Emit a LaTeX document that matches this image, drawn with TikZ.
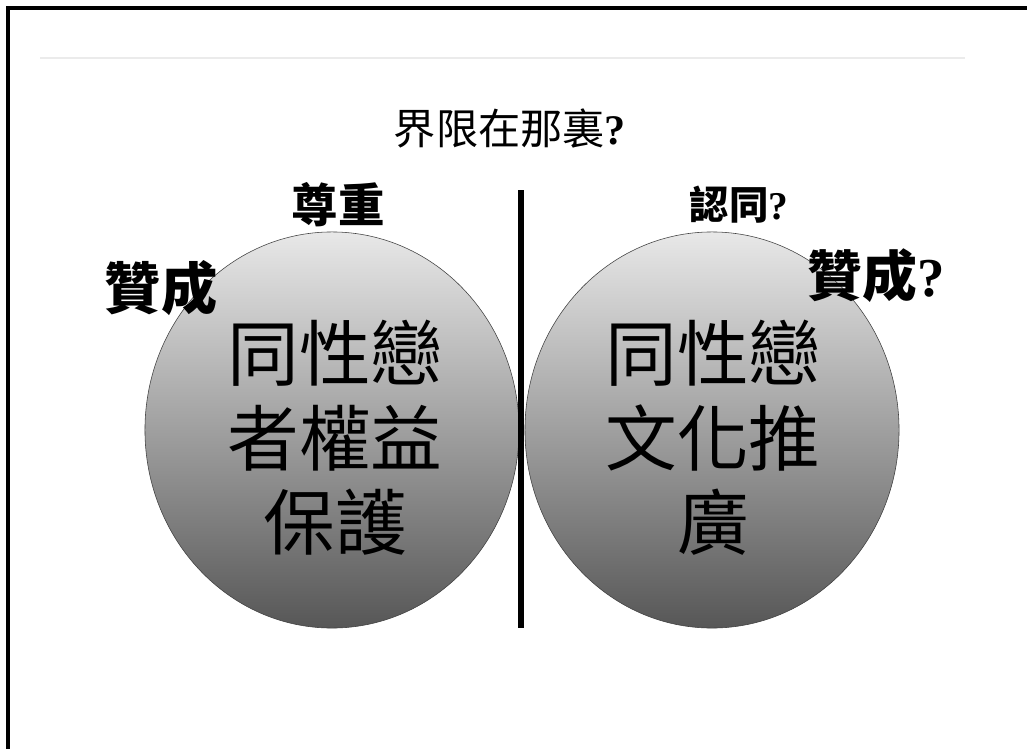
\documentclass[tikz,border=0pt]{standalone}
\usepackage{fontspec}
\newfontfamily\cjk{Noto Sans CJK TC}
\newfontfamily\qmark{Liberation Serif}
\usetikzlibrary{positioning}
\usetikzlibrary{shapes.geometric}
\def\bw{9.35cm}
\def\bh{9.9cm}
\tikzset{
    bubble/.style = {
        ellipse, draw=black!75, thin, minimum width=\bw, minimum height=\bh,
        top color=black!9, bottom color=black!66, inner sep=0pt
    },
    bubbletext/.style = {
        align=center, inner sep=0pt, font=\cjk\fontsize{51}{60}\selectfont
    },
    tag/.style = {
        inner sep=0pt, font=\cjk\bfseries\fontsize{#1}{#1}\selectfont
    },
}
\begin{document}
\begin{tikzpicture}[x=0.025cm, y=-0.025cm]
        \useasboundingbox (0,0) rectangle (1027,749);

        % Frame and faint rule
        \draw[line width=2.2pt] (8,749) -- (8,8) -- (1027,8);
        \draw[black!8, line width=1.5pt] (40,58) -- (965,58);

        % Title
        \node[inner sep=0pt, font=\cjk\fontsize{30}{30}\selectfont] (title) at (510,128)
            {界限在那裏\qmark\bfseries ?};

        % The two circles
        \node[bubble] (lcirc) at (332,430) {};
        \node[bubble] (rcirc) at (712,430) {};
        \node[bubbletext] (ltext) at (335,438) {同性戀\\者權益\\保護};
        \node[bubbletext] (rtext) at (713,438) {同性戀\\文化推\\廣};

        % Dividing line
        \coordinate (top) at (521,190);
        \coordinate (bot) at (521,628);
        \draw[line width=3.6pt] (top) -- (bot);

        % Labels
        \node[tag=33] (respect) at (338,205) {尊重};
        \node[tag=40] (agree) at (161,288) {贊成};
        \node[tag=28] (accept) at (739,205) {認同\qmark\bfseries ?};
        \node[tag=39] (agreeq) at (876,276) {贊成\qmark\bfseries ?};
    \end{tikzpicture}
\end{document}
